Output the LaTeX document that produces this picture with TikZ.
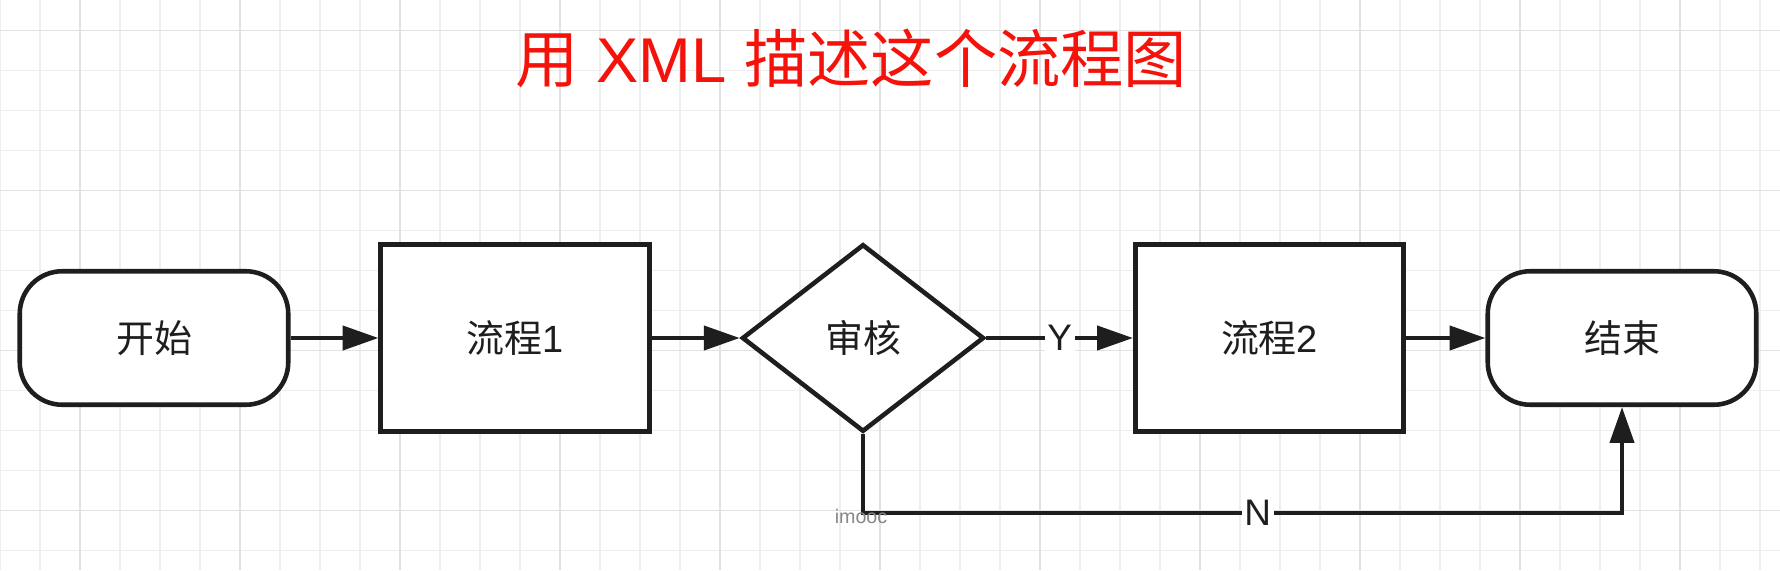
\documentclass[tikz,border=0pt]{standalone}
\usepackage{fontspec}
\setmainfont{Liberation Sans}
\newfontfamily\cjk{Noto Sans CJK SC}
\usetikzlibrary{arrows.meta,shapes.geometric}
\definecolor{titlered}{RGB}{245,18,10}
\definecolor{ink}{RGB}{30,30,30}
\definecolor{gridminor}{RGB}{238,238,238}
\definecolor{gridmajor}{RGB}{226,226,226}
\definecolor{markgray}{RGB}{135,135,135}

\begin{document}
\begin{tikzpicture}[
    box/.style={draw=ink, line width=2.6pt, fill=white, text=ink, font=\fontsize{21.6}{24}\selectfont,
      minimum width=5.37cm, minimum height=3.75cm, inner sep=0pt},
    terminal/.style={box, rounded corners=0.85cm, minimum height=2.67cm},
    decision/.style={box, diamond, minimum width=4.84cm},
    flow/.style={draw=ink, line width=2.5pt, -{Triangle[length=20.4pt,width=13.6pt]}},
    branch/.style={fill=white, text=ink, inner sep=1.5pt, font=\fontsize{21}{24}\selectfont}
  ]
    \useasboundingbox (0,0) rectangle (35.6,-11.4);
    \fill [white] (0,0) rectangle (35.6,-11.4);

    % background grid
    \foreach \i in {0,...,44}
      \draw [gridminor, line width=1pt] (0.8*\i,0) -- (0.8*\i,-11.4);
    \foreach \j in {0,...,13}
      \draw [gridminor, line width=1pt] (0,-0.61-0.8*\j) -- (35.6,-0.61-0.8*\j);
    \foreach \i in {0,...,10}
      \draw [gridmajor, line width=1.1pt] (1.6+3.2*\i,0) -- (1.6+3.2*\i,-11.4);
    \foreach \j in {0,...,3}
      \draw [gridmajor, line width=1.1pt] (0,-0.61-3.2*\j) -- (35.6,-0.61-3.2*\j);

    \node [text=titlered, font=\fontsize{36}{40}\selectfont] (title) at (17.03,-1.17)
      {{\cjk 用} XML {\cjk 描述这个流程图}};

    \node [terminal] (start) at (3.08,-6.76) {\cjk 开始};
    \node [box] (proc1) at (10.30,-6.76) {{\cjk 流程}1};
    \node [decision] (check) at (17.26,-6.76) {\cjk 审核};
    \node [box] (proc2) at (25.39,-6.76) {{\cjk 流程}2};
    \node [terminal] (finish) at (32.44,-6.76) {\cjk 结束};

    \draw [flow] (start) -- (proc1);
    \draw [flow] (proc1) -- (check);
    \draw [flow] (check) -- node [branch] {Y} (proc2);
    \draw [flow] (proc2) -- (finish);

    \coordinate (nleft) at (17.26,-10.254);
    \coordinate (nright) at (32.44,-10.254);
    \draw [flow] (check.south) -- (nleft) -- node [branch, pos=0.52] {N} (nright) -- (finish.south);

    \node [text=markgray, font=\fontsize{11.2}{13}\selectfont] (mark) at (17.22,-10.32) {imooc};
  \end{tikzpicture}
\end{document}
